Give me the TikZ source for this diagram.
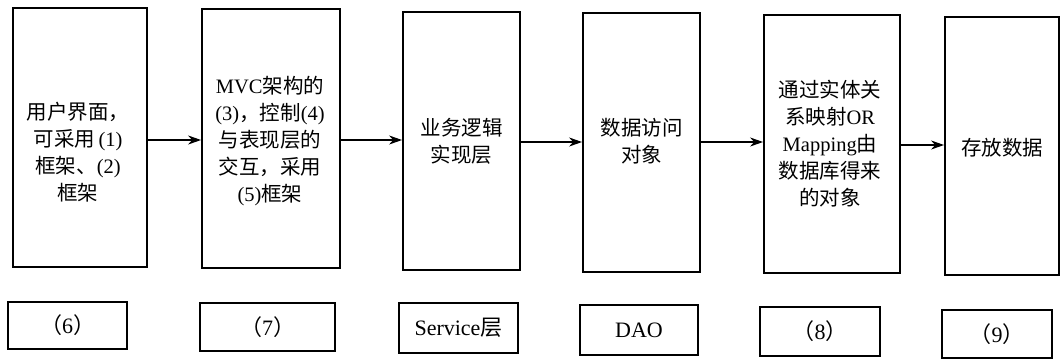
\documentclass[tikz,border=0pt]{standalone}
\usepackage{fontspec}
\setmainfont{Noto Sans CJK SC}
\newfontfamily\lat{Liberation Serif}
\usetikzlibrary{arrows.meta}
\begin{document}
\begin{tikzpicture}[x=1pt,y=-1pt,
  bigbox/.style={draw, line width=1.8pt, inner sep=0pt},
  smallbox/.style={draw, line width=1.8pt, inner sep=0pt, font=\fontsize{22}{24}\selectfont},
  boxtext/.style={align=center, inner sep=0pt, font=\fontsize{20.5}{27}\selectfont},
  arr/.style={line width=1.6pt, -{Stealth[length=13pt,width=9pt]}}]
\useasboundingbox (0,0) rectangle (1061,360);
\fill[white] (0,0) rectangle (1061,360);
% top boxes
\node[bigbox, minimum width=134pt, minimum height=259pt] (b1) at (80,137.5) {};
\node[bigbox, minimum width=138pt, minimum height=259pt] (b2) at (271,138.5) {};
\node[bigbox, minimum width=117pt, minimum height=258pt] (b3) at (461.5,141) {};
\node[bigbox, minimum width=117pt, minimum height=259pt] (b4) at (641.5,142.5) {};
\node[bigbox, minimum width=136pt, minimum height=258pt] (b5) at (832,144) {};
\node[bigbox, minimum width=114pt, minimum height=258pt] (b6) at (1002,146) {};
% texts
\node[boxtext] (t1) at (78,152) {用户界面，\\可采用\,{\lat (1)}\\框架、{\lat (2)}\\框架};
\node[boxtext] (t2) at (270,141) {{\lat MVC}架构的\\{\lat (3)}，控制{\lat (4)}\\与表现层的\\交互，采用\\{\lat (5)}框架};
\node[boxtext] (t3) at (461.5,141) {业务逻辑\\实现层};
\node[boxtext] (t4) at (641.5,141) {数据访问\\对象};
\node[boxtext] (t5) at (830,144) {通过实体关\\系映射{\lat OR}\\{\lat Mapping}由\\数据库得来\\的对象};
\node[boxtext] (t6) at (1002,148) {存放数据};
% arrows
\draw[arr] (b1.east |- 0,140) -- (b2.west |- 0,140);
\draw[arr] (b2.east |- 0,140) -- (b3.west |- 0,140);
\draw[arr] (b3.east |- 0,142) -- (b4.west |- 0,142);
\draw[arr] (b4.east |- 0,142) -- (b5.west |- 0,142);
\draw[arr] (b5.east |- 0,145) -- (b6.west |- 0,145);
% bottom boxes
\node[smallbox, minimum width=119pt, minimum height=47pt] (s1) at (67.5,325.5) {（{\lat 6}）};
\node[smallbox, minimum width=135pt, minimum height=48pt] (s2) at (267.5,327) {（{\lat 7}）};
\node[smallbox, minimum width=119pt, minimum height=50pt] (s3) at (458.5,328) {{\lat Service}层};
\node[smallbox, minimum width=118pt, minimum height=50pt] (s4) at (639,330) {\lat DAO};
\node[smallbox, minimum width=120pt, minimum height=49pt] (s5) at (820,331.5) {（{\lat 8}）};
\node[smallbox, minimum width=110pt, minimum height=48pt] (s6) at (997,334) {（{\lat 9}）};
\end{tikzpicture}
\end{document}
